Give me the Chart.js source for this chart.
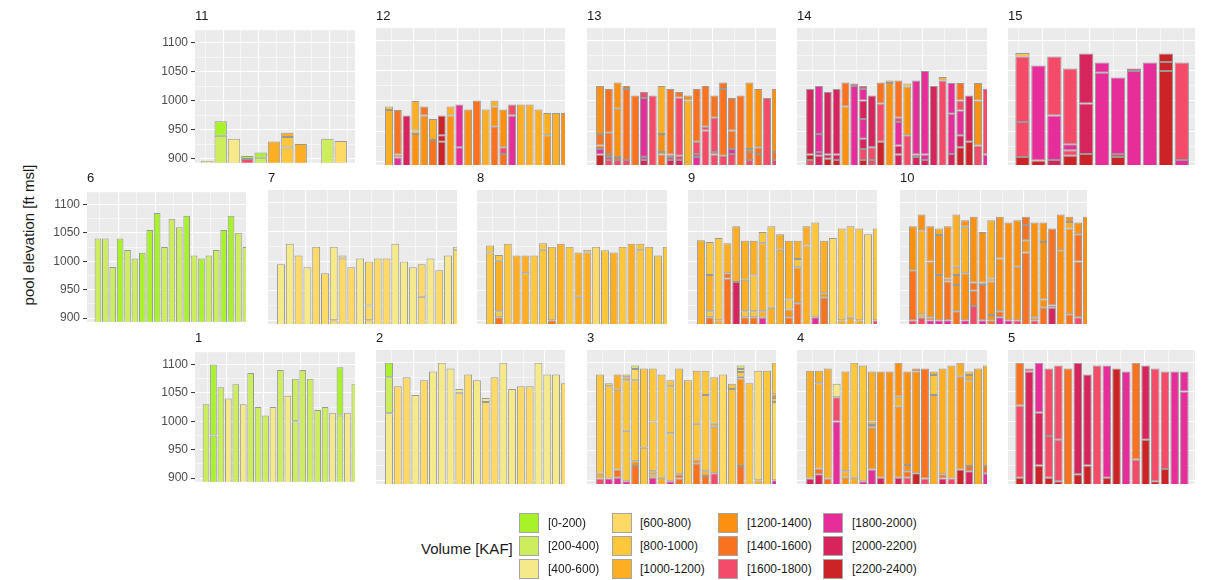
<!DOCTYPE html>
<html>
<head>
<meta charset="utf-8">
<title>Pool elevation by volume class</title>
<script src="https://cdn.jsdelivr.net/npm/chart.js@4.4.1/dist/chart.umd.min.js"></script>
<style>
  html, body { margin: 0; padding: 0; background: #ffffff; }
  #figure { position: relative; width: 1210px; height: 580px; overflow: hidden;
            font-family: "Liberation Sans", Arial, Helvetica, sans-serif; }
  #figure canvas { position: absolute; }
  .strip { position: absolute; font-size: 13px; line-height: 1; color: #1a1a1a; transform: translateY(-50%); }
  .ytitle { position: absolute; left: 28px; top: 235px; font-size: 15px; color: #1a1a1a; white-space: nowrap;
            transform: translate(-50%, -50%) rotate(-90deg); }
  .legend-title { position: absolute; left: 421px; top: 548px; font-size: 15px; color: #1a1a1a;
                  transform: translateY(-50%); white-space: nowrap; }
  .key { position: absolute; width: 20px; height: 20px; box-sizing: border-box; border: 1px solid #a6a6a6; }
  .key-label { position: absolute; font-size: 12px; color: #1a1a1a; transform: translateY(-50%); white-space: nowrap; }
</style>
</head>
<body>
<div id="figure">
  <div class="ytitle">pool elevation [ft msl]</div>
</div>
<script>
// ---- volume classes (KAF) ----
const volumeClasses = ['[0-200)', '[200-400)', '[400-600)', '[600-800)', '[800-1000)', '[1000-1200)',
                       '[1200-1400)', '[1400-1600)', '[1600-1800)', '[1800-2000)', '[2000-2200)', '[2200-2400)'];
const classColors = ['#a8f22a', '#ccee5c', '#f6e98a', '#fed966', '#fec63b', '#fdae22',
                     '#fc9011', '#f8721f', '#f44c68', '#e72d9a', '#d8245d', '#cc2326'];

// ---- elevation axis ----
const elevationTicks = [900, 925, 950, 975, 1000, 1025, 1050, 1075, 1100];
const elevationLimits = [893.5, 1121.5];
const stackBase = 0;

// ---- bars per panel: segments from the bottom up, each [volume class, top elevation] ----
const panel1 = [
  [[1,1030]], [[0,975],[0,1100]], [[1,1060]], [[2,1040]], [[1,1065]], [[2,1030]], [[1,1085]],
  [[1,1025]], [[1,1010]], [[2,1025]], [[1,1090]], [[2,1045]], [[1,1000],[1,1075]], [[1,1090]],
  [[1,1075]], [[1,1020]], [[1,1025]], [[2,1015]], [[1,1010],[0,1095]], [[2,1015]], [[1,1065]]
];
const panel2 = [
  [[2,1014],[1,1075],[0,1100]], [[3,1060]], [[3,1075]], [[2,1045]], [[3,1070]], [[2,1085]], [[2,1100]],
  [[2,1090]], [[3,1048],[2,1055]], [[3,1080]], [[2,1070]], [[3,1033],[2,1040]], [[3,1075]], [[2,1100]],
  [[2,1055]], [[3,1060]], [[3,1060]], [[2,1100]], [[2,1080]], [[2,1080]], [[3,1065]]
];
const panel3 = [
  [[8,903],[5,911],[4,1080]],
  [[9,903],[4,1060],[4,1065]],
  [[9,904],[7,918],[5,1054],[5,1080]],
  [[9,898],[4,984],[4,1070],[5,1075],[4,1080]],
  [[7,924],[6,932],[4,1070],[3,1089],[1,1095]],
  [[4,955],[4,1090]],
  [[9,904],[5,910],[5,915],[4,1000],[4,1090]],
  [[5,904],[4,1080]],
  [[9,898],[4,980],[4,1060],[4,1070]],
  [[7,903],[7,910],[4,1090]],
  [[4,1070]],
  [[7,928],[6,935],[4,996],[4,1086]],
  [[7,907],[5,915],[4,1045],[4,1086]],
  [[8,912],[5,991],[5,996],[4,1075]],
  [[3,1080]],
  [[4,1055],[4,1064]],
  [[7,924],[6,1073],[5,1076],[4,1084],[3,1089],[1,1095]],
  [[4,1065]],
  [[5,900],[3,1086]],
  [[4,1086]],
  [[9,900],[3,1033],[4,1040],[6,1046],[4,1100]]
];
const panel4 = [
  [[10,903],[5,1086]],
  [[10,910],[7,920],[5,1065],[5,1086]],
  [[7,903],[5,1090]],
  [[9,1000],[8,1041],[2,1064]],
  [[6,904],[5,915],[5,1085]],
  [[5,904],[4,1100]],
  [[9,898],[4,1095]],
  [[9,918],[6,989],[6,994],[5,1000],[5,1085]],
  [[10,904],[6,1085]],
  [[6,1085]],
  [[10,904],[6,1025],[5,1042],[6,1100]],
  [[8,904],[7,915],[6,926],[6,1085]],
  [[11,912],[6,1085],[7,1090]],
  [[8,903],[7,1090]],
  [[5,1045],[4,1079],[5,1085]],
  [[10,903],[7,910],[5,1090]],
  [[8,903],[5,1095]],
  [[11,918],[6,1076],[5,1100]],
  [[10,915],[7,924],[5,1070],[5,1079],[4,1085]],
  [[5,1090]],
  [[9,912],[7,924],[5,1095]]
];
const panel5 = [
  [[11,904],[8,1027],[7,1100]],
  [[10,1085],[8,1090]],
  [[11,925],[10,1015],[9,1100]],
  [[11,904],[8,975],[8,1090]],
  [[11,898],[8,969],[8,1095]],
  [[7,1090]],
  [[11,910],[10,1100]],
  [[11,925],[10,1080]],
  [[8,1095]],
  [[11,904],[9,1095]],
  [[11,1090]],
  [[9,1085]],
  [[8,935],[7,1100]],
  [[11,969],[10,1095]],
  [[11,898],[8,1090]],
  [[11,919],[8,1085]],
  [[9,1085]],
  [[9,1051],[9,1085]]
];
const panel6 = [
  [[1,1040]], [[1,1040]], [[1,990]], [[0,1040]], [[1,1020]], [[1,1005]], [[0,1015]], [[0,1055]],
  [[0,1085]], [[1,1025]], [[1,1075]], [[1,1060]], [[0,1080]], [[1,1010]], [[0,1005]], [[1,1010]],
  [[1,1020]], [[0,1055]], [[0,1080]], [[1,1050]], [[1,1025]]
];
const panel7 = [
  [[2,995]], [[2,1030]], [[3,1010]], [[2,990]], [[3,1025]], [[3,980]], [[3,900],[2,1025]],
  [[3,1005],[3,1010]], [[3,990]], [[2,1005]], [[3,900],[3,925],[3,1000]], [[3,1005]], [[3,1005]],
  [[2,1030]], [[2,1000]], [[2,990]], [[3,940],[3,995]], [[2,1005]], [[3,985]], [[2,1010]], [[3,1019],[2,1025]]
];
const panel8 = [
  [[4,1015],[4,1027]],
  [[7,905],[4,915],[5,1001],[4,1011]],
  [[4,1030]],
  [[5,1010]],
  [[5,980],[5,1010]],
  [[4,1010]],
  [[4,1020],[4,1031]],
  [[7,900],[4,1025]],
  [[5,1030]],
  [[4,1025]],
  [[5,940],[5,1015]],
  [[5,1015],[4,1020]],
  [[3,1025]],
  [[4,1019]],
  [[5,1015]],
  [[4,1025]],
  [[5,1030]],
  [[4,1019],[4,1030]],
  [[4,1025]],
  [[4,1010]],
  [[4,1025]]
];
const panel9 = [
  [[5,1036]],
  [[7,905],[4,915],[5,977],[4,1033]],
  [[5,900],[4,1040]],
  [[7,971],[7,980],[5,1031]],
  [[10,965],[5,1060]],
  [[7,905],[4,915],[5,969],[5,1035]],
  [[7,905],[4,915],[4,976],[5,1035]],
  [[9,904],[5,915],[5,1031],[4,1050]],
  [[5,921],[4,1060]],
  [[5,1020],[5,1046]],
  [[7,905],[6,918],[4,935],[5,1035]],
  [[7,929],[6,990],[4,1004],[5,1035]],
  [[5,1027],[5,1060]],
  [[9,905],[4,1066]],
  [[7,938],[6,946],[5,1035]],
  [[3,1040]],
  [[5,900],[4,1056]],
  [[5,904],[4,1060]],
  [[5,900],[4,1056]],
  [[3,1046]],
  [[8,900],[4,1056]]
];
const panel10 = [
  [[8,900],[7,985],[6,1060]],
  [[8,904],[5,910],[5,1053],[6,1080]],
  [[9,900],[6,905],[6,1000],[6,1060]],
  [[9,900],[6,977],[6,1045],[5,1056]],
  [[9,900],[7,966],[6,971],[6,1060]],
  [[7,915],[6,960],[6,977],[5,991],[5,1080]],
  [[9,900],[6,980],[5,1059],[6,1070]],
  [[8,924],[7,950],[7,964],[6,1076]],
  [[9,900],[7,960],[6,964],[6,1050]],
  [[7,900],[6,909],[6,966],[5,971],[5,1070]],
  [[9,905],[7,915],[6,1005],[6,1076]],
  [[9,900],[6,1066]],
  [[8,900],[6,991],[6,1070]],
  [[7,1015],[6,1036],[7,1062],[7,1076]],
  [[8,900],[6,905],[6,1066]],
  [[7,921],[6,935],[6,1033],[6,1066]],
  [[10,921],[8,925],[7,1056]],
  [[6,1019],[6,1080]],
  [[7,910],[6,1056],[5,1067],[6,1076]],
  [[8,905],[7,1000],[7,1046],[6,1066]],
  [[6,1076]]
];
const panel11 = [
  [[2,897]], [[1,940],[0,965]], [[2,935]], [[8,900],[0,905]], [[1,902],[0,911]], [[5,930]],
  [[4,920],[4,938],[5,945]], [[5,926]], null, [[1,935]], [[3,931]]
];
const panel12 = [
  [[5,985],[4,991]],
  [[9,906],[6,911],[7,985]],
  [[10,976]],
  [[6,945],[4,951],[5,1000]],
  [[6,976],[7,991]],
  [[7,935],[5,970]],
  [[11,932],[11,943],[11,976]],
  [[6,976],[5,991]],
  [[9,923],[9,994]],
  [[6,986]],
  [[7,1001]],
  [[5,986]],
  [[7,957],[6,991],[5,1001]],
  [[7,912],[8,923],[6,986]],
  [[9,976],[8,994]],
  [[5,994]],
  [[5,994]],
  [[5,986]],
  [[6,943],[5,980]],
  [[5,980]],
  [[6,980]]
];
const panel13 = [
  [[11,911],[9,920],[7,926],[7,945],[6,1025]],
  [[8,902],[8,907],[7,912],[7,947],[7,1020]],
  [[8,902],[7,907],[6,987],[6,1031]],
  [[8,902],[7,1020],[7,1025]],
  [[7,1009]],
  [[10,902],[9,907],[9,1005],[8,1015]],
  [[8,1009]],
  [[7,911],[6,915],[6,945],[5,1025]],
  [[10,902],[8,907],[7,911],[7,1020]],
  [[10,902],[8,909],[8,1006],[7,1015]],
  [[5,1001],[6,1009]],
  [[9,907],[8,912],[8,932],[7,1020]],
  [[8,951],[8,957],[7,1025]],
  [[8,911],[8,915],[8,972],[7,1009]],
  [[8,909],[7,1020],[7,1031]],
  [[8,912],[9,920],[7,951],[7,1005]],
  [[7,1009]],
  [[8,902],[7,915],[6,920],[6,1031]],
  [[7,912],[7,923],[6,1020]],
  [[8,1005]],
  [[8,902],[7,915],[6,1020]]
];
const panel14 = [
  [[8,902],[11,911],[10,1020]],
  [[10,909],[9,915],[9,945],[9,1025]],
  [[11,904],[10,911],[10,1015]],
  [[11,902],[10,911],[10,1020]],
  [[6,991],[7,1031]],
  [[9,1025],[8,1029]],
  [[11,902],[8,920],[10,937],[9,970],[10,1001],[9,1020],[8,1025]],
  [[8,902],[8,923],[10,1009]],
  [[11,932],[8,996],[7,1031]],
  [[6,1030],[5,1034]],
  [[10,911],[10,926],[9,965],[8,972],[7,1034]],
  [[8,943],[6,1024],[4,1029]],
  [[10,907],[8,911],[9,1034]],
  [[10,902],[9,911],[9,1050]],
  [[10,1025]],
  [[8,1034],[5,1040]],
  [[10,912],[9,979],[9,1030]],
  [[11,923],[10,943],[9,984],[8,1001],[7,1030]],
  [[11,932],[10,1009]],
  [[8,926],[6,1001],[6,1030]],
  [[9,911],[8,1020]]
];
const panel15 = [
  [[11,907],[8,965],[8,1074],[4,1080]],
  [[11,901],[9,1059]],
  [[10,902],[9,976],[8,1074]],
  [[11,909],[8,918],[9,928],[8,1054]],
  [[11,912],[10,996],[10,1079]],
  [[9,1047],[9,1064]],
  [[11,907],[8,912],[9,1039]],
  [[9,1050],[10,1054]],
  [[9,1064]],
  [[11,1050],[11,1065],[11,1079]],
  [[9,902],[8,1064]]
];

// ---- facet layout (plot-area rectangles in px and x-scale windows) ----
const ROW_TOP = [28, 190, 350];
const ROW_HEIGHT = [137, 134, 134];
const AXIS_W = 45;
const wide = { xMin: -0.48, xMax: 21.02, gridStart: 0, gridStep: 2.5, barPct: 0.9 };
const facets = [
  { name: '11', bars: panel11, row: 0, left: 195, width: 160, axis: true, xMin: 0.075, xMax: 12.07, gridStart: 0.19, gridStep: 1.33, barPct: 0.93 },
  { name: '12', bars: panel12, row: 0, left: 376, width: 189 },
  { name: '13', bars: panel13, row: 0, left: 587, width: 189 },
  { name: '14', bars: panel14, row: 0, left: 797, width: 190 },
  { name: '15', bars: panel15, row: 0, left: 1008, width: 187, xMin: 0.09, xMax: 11.83, gridStart: 0.03, gridStep: 1.48, barPct: 0.9 },
  { name: '6',  bars: panel6,  row: 1, left: 87,  width: 159, axis: true },
  { name: '7',  bars: panel7,  row: 1, left: 268, width: 189 },
  { name: '8',  bars: panel8,  row: 1, left: 477, width: 190 },
  { name: '9',  bars: panel9,  row: 1, left: 688, width: 189 },
  { name: '10', bars: panel10, row: 1, left: 900, width: 187 },
  { name: '1',  bars: panel1,  row: 2, left: 195, width: 160, axis: true },
  { name: '2',  bars: panel2,  row: 2, left: 376, width: 189 },
  { name: '3',  bars: panel3,  row: 2, left: 587, width: 189 },
  { name: '4',  bars: panel4,  row: 2, left: 797, width: 190 },
  { name: '5',  bars: panel5,  row: 2, left: 1008, width: 187, xMin: -0.2, xMax: 19.1, gridStart: 0.15, gridStep: 2.5, barPct: 0.88 }
];

Chart.defaults.font.family = '"Liberation Sans", Arial, Helvetica, sans-serif';

// grey panel background drawn beneath the grid
const panelBackground = {
  id: 'panelBackground',
  beforeDraw(chart) {
    const { ctx, chartArea: a } = chart;
    ctx.save();
    ctx.fillStyle = '#ebebeb';
    ctx.fillRect(a.left, a.top, a.right - a.left, a.bottom - a.top);
    ctx.restore();
  }
};

function buildDatasets(bars, barPct) {
  return volumeClasses.map((label, c) => {
    const data = [];
    bars.forEach((segments, i) => {
      if (!segments) return;
      let low = stackBase;
      segments.forEach(([cls, top]) => {
        if (cls === c) data.push({ x: i + 1, y: [low, top] });
        low = top;
      });
    });
    return {
      label, data,
      backgroundColor: classColors[c],
      borderColor: '#999999',
      borderWidth: 1,
      borderSkipped: false,
      grouped: false,
      categoryPercentage: 1,
      barPercentage: barPct,
      clip: 0
    };
  });
}

const fig = document.getElementById('figure');
const PAD = 8;

facets.forEach(f0 => {
  const f = Object.assign({}, wide, f0);
  const top = ROW_TOP[f.row];
  const height = ROW_HEIGHT[f.row];
  const axisW = f.axis ? AXIS_W : 0;

  const canvas = document.createElement('canvas');
  canvas.width = f.width + axisW;
  canvas.height = height + 2 * PAD;
  canvas.style.left = (f.left - axisW) + 'px';
  canvas.style.top = (top - PAD) + 'px';
  canvas.style.width = canvas.width + 'px';
  canvas.style.height = canvas.height + 'px';
  fig.appendChild(canvas);

  const strip = document.createElement('div');
  strip.className = 'strip';
  strip.textContent = f.name;
  strip.style.left = f.left + 'px';
  strip.style.top = (top - 13) + 'px';
  fig.appendChild(strip);

  const gridValues = [];
  for (let v = f.gridStart; v <= f.xMax; v += f.gridStep) gridValues.push(v);

  new Chart(canvas, {
    type: 'bar',
    data: { datasets: buildDatasets(f.bars, f.barPct) },
    options: {
      responsive: false,
      animation: false,
      devicePixelRatio: 1,
      events: [],
      layout: { padding: { top: PAD, bottom: PAD, left: 0, right: 0 } },
      plugins: { legend: { display: false }, tooltip: { enabled: false } },
      scales: {
        x: {
          type: 'linear',
          min: f.xMin, max: f.xMax,
          offset: false,
          border: { display: false },
          ticks: { display: false },
          grid: {
            color: '#ffffff',
            drawTicks: false,
            lineWidth: ctx => (ctx.index % 2 === 0 ? 1.1 : 0.55)
          },
          afterBuildTicks: scale => { scale.ticks = gridValues.map(v => ({ value: v })); },
          afterFit: scale => { scale.height = 0; }
        },
        y: {
          min: elevationLimits[0], max: elevationLimits[1],
          border: { display: false },
          ticks: {
            display: !!f.axis,
            color: '#4d4d4d',
            font: { size: 12 },
            padding: 3,
            autoSkip: false,
            callback: v => (v % 50 === 0 ? String(v) : '')
          },
          grid: {
            color: '#ffffff',
            drawTicks: !!f.axis,
            tickLength: 4,
            tickWidth: 1,
            tickColor: ctx => (ctx.tick && ctx.tick.value % 50 === 0 ? '#333333' : 'rgba(0,0,0,0)'),
            lineWidth: ctx => (ctx.tick && ctx.tick.value % 50 === 0 ? 1.1 : 0.55)
          },
          afterBuildTicks: scale => { scale.ticks = elevationTicks.map(v => ({ value: v })); },
          afterFit: scale => { scale.width = axisW; }
        }
      }
    },
    plugins: [panelBackground]
  });
});

// ---- legend ----
const legendColX = [519, 612, 718, 823];
const legendLabelX = [548, 640, 747, 852];
const legendRowY = [513, 536, 559];
const legendTitle = document.createElement('div');
legendTitle.className = 'legend-title';
legendTitle.textContent = 'Volume [KAF]';
fig.appendChild(legendTitle);
volumeClasses.forEach((label, i) => {
  const col = Math.floor(i / 3), row = i % 3;
  const key = document.createElement('div');
  key.className = 'key';
  key.style.left = legendColX[col] + 'px';
  key.style.top = legendRowY[row] + 'px';
  key.style.background = classColors[i];
  fig.appendChild(key);
  const text = document.createElement('div');
  text.className = 'key-label';
  text.textContent = label;
  text.style.left = legendLabelX[col] + 'px';
  text.style.top = (legendRowY[row] + 10) + 'px';
  fig.appendChild(text);
});
</script>
</body>
</html>
